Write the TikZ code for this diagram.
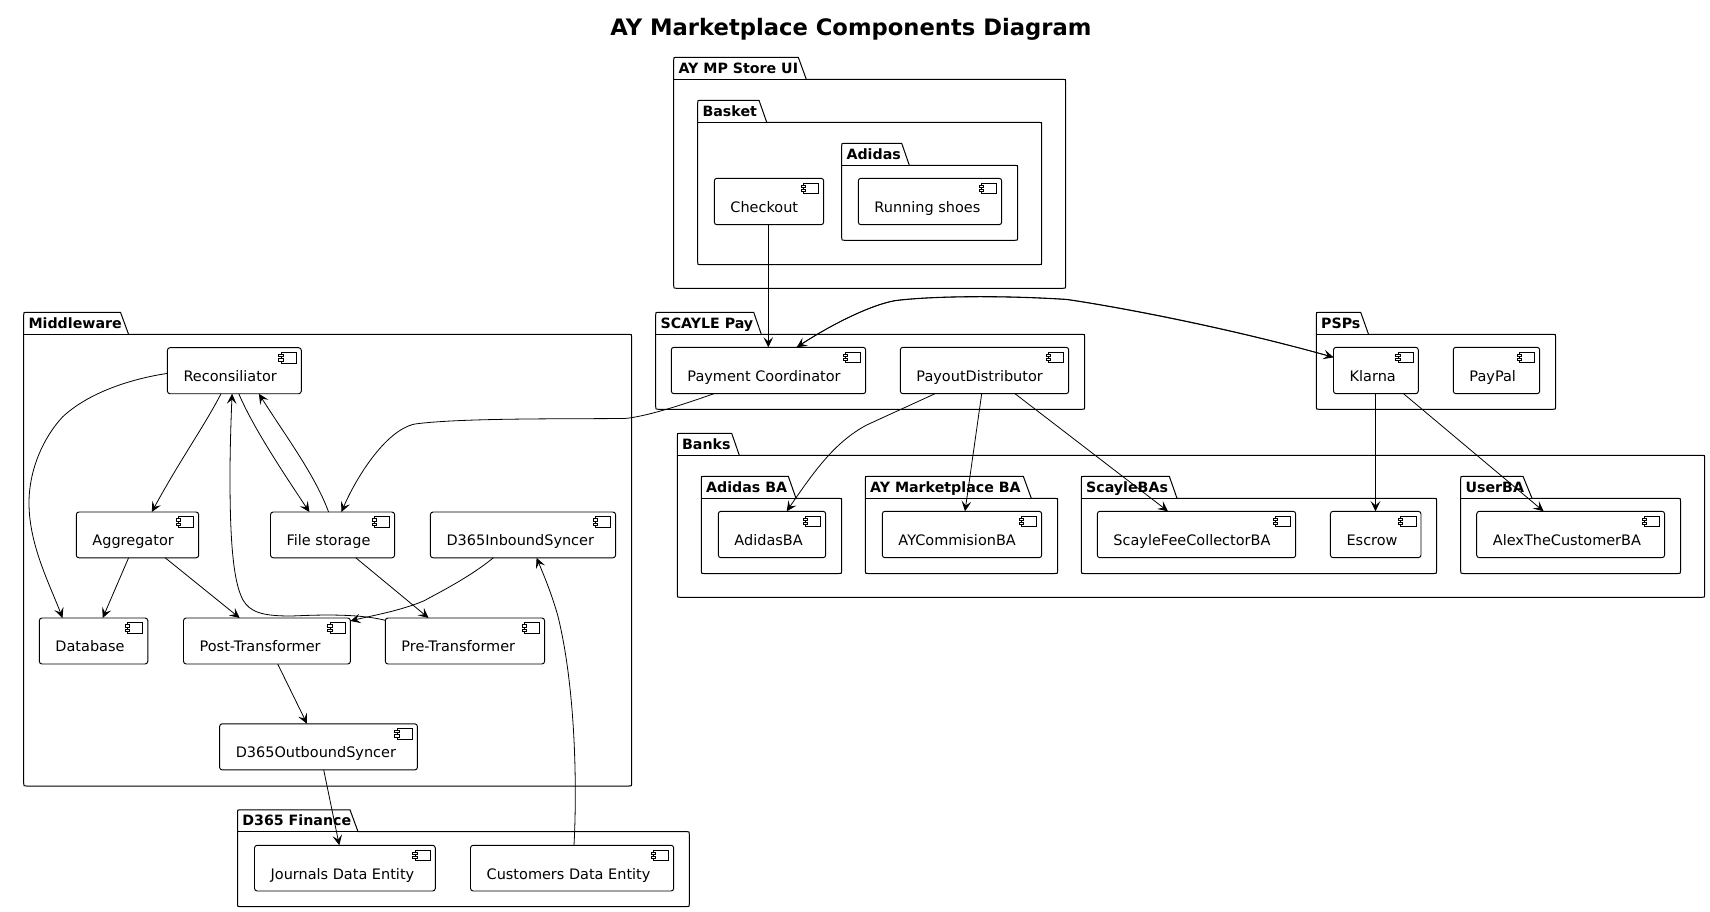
\documentclass[tikz,border=0pt]{standalone}
\usepackage{fontspec}
\setmainfont{DejaVu Sans}
\usetikzlibrary{arrows.meta,calc}
\tikzset{
  compbox/.style={draw=black,line width=0.72pt,rounded corners=2pt,fill=white,inner sep=0pt,outer sep=0pt},
  pkgline/.style={draw=black,line width=0.75pt,fill=white},
  icon/.style={draw=black,line width=0.65pt,fill=white},
  complabel/.style={anchor=base west,inner sep=0pt,font=\fontsize{10.85pt}{13pt}\selectfont},
  pkglabel/.style={anchor=base west,inner sep=0pt,font=\fontsize{10.65pt}{13pt}\selectfont\bfseries},
  conn/.style={draw=black,line width=0.6pt,-{Stealth[length=7.6pt,width=7.2pt,inset=3.2pt]}}
}
\newcommand{\comp}[6]{%
  \node[compbox,minimum width={(#4-#2)*0.75pt},minimum height={(#5-#3)*0.75pt}] (#1) at ({(#2+#4)/2},{(#3+#5)/2}) {};
  \node[complabel] (#1-text) at ({#2+15.9},{#3+33.8}) {#6};
  \draw[icon] ($(#1.north east)+(-20.3,4.7)$) rectangle ($(#1.north east)+(-5,15.3)$);
  \draw[icon] ($(#1.north east)+(-22.5,6.9)$) rectangle ($(#1.north east)+(-18.1,9.1)$);
  \draw[icon] ($(#1.north east)+(-22.5,11.1)$) rectangle ($(#1.north east)+(-18.1,13.3)$);
}
\newcommand{\pkg}[8]{%
  \draw[pkgline] (#1,#3) -- ({#1},{#2+2.7}) .. controls (#1,#2) .. ({#1+2.7},#2) -- (#6,#2) -- (#7,#3)
    -- ({#4-2.7},#3) .. controls (#4,#3) .. (#4,{#3+2.7}) -- (#4,{#5-2.7}) .. controls (#4,#5) .. ({#4-2.7},#5)
    -- ({#1+2.7},#5) .. controls (#1,#5) .. (#1,{#5-2.7}) -- cycle;
  \draw[draw=black,line width=0.75pt] (#1,#3) -- (#7,#3);
  \node[pkglabel] at ({#1+4.6},{#2+16}) {#8};
}
\begin{document}
\begin{tikzpicture}[x=0.75pt,y=-0.75pt]
\useasboundingbox (0,0) rectangle (1710,912);
\node[anchor=base,inner sep=0pt,font=\fontsize{17pt}{20pt}\selectfont\bfseries] (title) at (851,35.5) {AY Marketplace Components Diagram};

\pkg{673.7}{57.3}{79.3}{1065.7}{288.3}{798.3}{806.3}{AY MP Store UI}
\pkg{697.7}{100.3}{122.3}{1041.7}{264.7}{759}{766.7}{Basket}
\pkg{841.7}{143.3}{165.3}{1017.7}{240.3}{901.7}{909.3}{Adidas}
\pkg{23.7}{312.3}{334.4}{631.7}{786}{120.5}{128.6}{Middleware}
\pkg{655.7}{312.3}{334.3}{1084.7}{409.3}{753.7}{761.3}{SCAYLE Pay}
\pkg{1316.3}{312.3}{334.3}{1555.6}{409.3}{1360.7}{1368.5}{PSPs}
\pkg{677.3}{433.3}{455.3}{1704.7}{597.3}{731.7}{739.3}{Banks}
\pkg{701.3}{476.3}{498.3}{841.7}{573.5}{788.3}{796}{Adidas BA}
\pkg{865.3}{476.3}{498.3}{1057.7}{573.5}{1023.3}{1031.3}{AY Marketplace BA}
\pkg{1081.3}{476.3}{498.3}{1436.6}{573.5}{1169.3}{1177}{ScayleBAs}
\pkg{1460.7}{476.3}{498.3}{1680.5}{573.5}{1523}{1532}{UserBA}
\pkg{237.5}{809.8}{831.6}{689.3}{906.6}{350}{358}{D365 Finance}

\comp{checkout}{714.3}{178.3}{823.7}{224.7}{Checkout}
\comp{shoes}{858.3}{178.3}{1001.7}{224.7}{Running shoes}
\comp{payment}{671.3}{347.3}{865.7}{393.7}{Payment Coordinator}
\comp{payout}{900.3}{347.3}{1068.7}{393.7}{PayoutDistributor}
\comp{klarna}{1333.5}{347.3}{1418.3}{393.7}{Klarna}
\comp{paypal}{1453.3}{347.3}{1539.7}{393.7}{PayPal}
\comp{adidasba}{718.3}{511.3}{825.7}{557.7}{AdidasBA}
\comp{aycomm}{882.3}{511.3}{1041.7}{557.7}{AYCommisionBA}
\comp{scaylefee}{1097.3}{511.3}{1295.7}{557.7}{ScayleFeeCollectorBA}
\comp{escrow}{1330.4}{511.3}{1421}{557.7}{Escrow}
\comp{alex}{1476.7}{511.3}{1664.6}{557.7}{AlexTheCustomerBA}
\comp{recon}{167.4}{347.7}{301.3}{393.75}{Reconsiliator}
\comp{aggr}{76.3}{512}{198.7}{557.8}{Aggregator}
\comp{files}{270.5}{512}{394.6}{557.8}{File storage}
\comp{inbound}{430.4}{512}{615.6}{557.8}{D365InboundSyncer}
\comp{database}{39.3}{618}{147.8}{664}{Database}
\comp{post}{183.5}{618}{350.4}{664}{Post-Transformer}
\comp{pre}{385.3}{618}{544.6}{664}{Pre-Transformer}
\comp{outbound}{219.6}{723.8}{417.4}{769.9}{D365OutboundSyncer}
\comp{journals}{254.5}{845.3}{435.3}{891}{Journals Data Entity}
\comp{customers}{470.5}{845.3}{673.7}{891}{Customers Data Entity}

\draw[conn] (recon.west |- 0,373.4) .. controls (130,379) and (88,393) .. (62.5,417) .. controls (43,438) and (29,470) .. (29,503) .. controls (29,545) and (50,585) .. (database.north -| 62.5,0);
\draw[conn] (recon.south -| 221,0) .. controls (205,425) and (180,460) .. (aggr.north -| 151.8,0);
\draw[conn] (recon.south -| 238.8,0) .. controls (252,425) and (280,468) .. (files.north -| 309.4,0);
\draw[conn] (files.north -| 328.6,0) .. controls (315,475) and (285,435) .. (recon.south -| 258.9,0);
\draw[conn] (pre.west |- 0,620.3) .. controls (352,612) and (300,616) .. (290,616) .. controls (262,616) and (250,612) .. (243,600) .. controls (232,580) and (230,530) .. (230,476) .. controls (230,450) and (231,420) .. (recon.south -| 232.1,0);
\draw[conn] (aggr.south -| 128.6,0) -- (database.north -| 102.7,0);
\draw[conn] (aggr.south -| 165.2,0) -- (post.north -| 239.7,0);
\draw[conn] (files.south -| 355.8,0) -- (pre.north -| 428.6,0);
\draw[conn] (inbound.south -| 493.3,0) .. controls (470,577) and (440,592) .. (424,600.8) .. controls (400,611) and (370,616) .. (post.east |- 0,621);
\draw[conn] (post.south -| 277.7,0) -- (outbound.north -| 307,0);
\draw[conn] (outbound.south -| 323.7,0) -- (journals.north -| 339.3,0);
\draw[conn] (customers.north -| 574,0) .. controls (577,790) and (576,690) .. (558,616.4) .. controls (552,595) and (545,578) .. (inbound.south -| 536.6,0);
\draw[conn] (payment.south -| 714,0) .. controls (690,402) and (650,416) .. (625,418.5) .. controls (560,419) and (460,418) .. (415,424) .. controls (385,430) and (355,480) .. (files.north -| 341.5,0);
\draw[conn] (checkout.south -| 768.3,0) -- (payment.north -| 768.3,0);
\draw[conn] (payment.north -| 796.7,0) .. controls (830,325) and (870,305) .. (895,300.5) .. controls (930,296) and (1000,295) .. (1066.7,299.3) .. controls (1120,307) and (1230,328) .. (klarna.west |- 0,357.3);
\draw[conn] (klarna.west |- 0,357.3) .. controls (1230,328.4) and (1120,307.4) .. (1066.7,299.6) .. controls (1000,295.3) and (930,296.3) .. (895,300.8) .. controls (870,305.3) and (830,325.3) .. (payment.north -| 796.7,0);
\draw[conn] (payout.south -| 935,0) -- (866.7,425) .. controls (835,442) and (815,470) .. (adidasba.north -| 786.7,0);
\draw[conn] (payout.south -| 981.7,0) -- (aycomm.north -| 965,0);
\draw[conn] (payout.south -| 1015,0) -- (scaylefee.north -| 1168,0);
\draw[conn] (klarna.south -| 1375.5,0) -- (escrow.north -| 1375.5,0);
\draw[conn] (klarna.south -| 1403.5,0) -- (alex.north -| 1543.6,0);
\end{tikzpicture}
\end{document}
